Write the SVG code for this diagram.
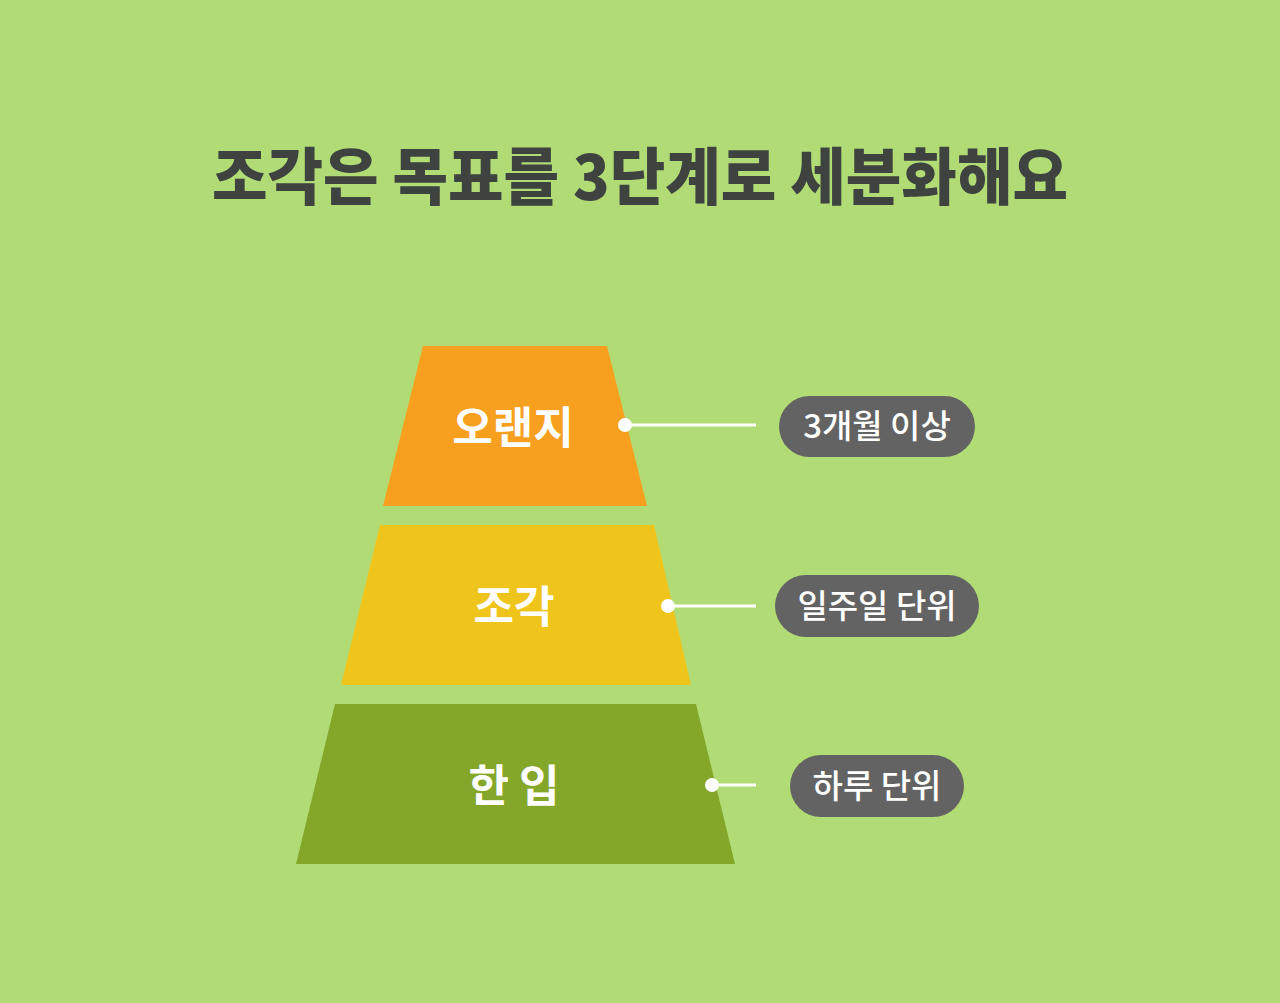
<svg xmlns="http://www.w3.org/2000/svg" width="1280" height="1003" viewBox="0 0 1280 1003">
  <style>
    .title { font-family: "Noto Sans CJK KR", "Noto Sans", sans-serif; font-weight: 900; font-size: 62px; fill: #3f4340; }
    .lbl { font-family: "Noto Sans CJK KR", "Noto Sans", sans-serif; font-weight: 700; font-size: 44px; fill: #ffffff; text-anchor: middle; }
    .pill { fill: #636363; }
    .ptxt { font-family: "Noto Sans CJK KR", "Noto Sans", sans-serif; font-weight: 500; font-size: 33px; fill: #ffffff; text-anchor: middle; }
    .conn line { stroke: #ffffff; stroke-width: 3; }
    .conn circle { fill: #ffffff; }
  </style>
  <rect width="1280" height="1003" fill="#b1dc75"/>
  <text class="title" x="640" y="200" text-anchor="middle" textLength="856" lengthAdjust="spacingAndGlyphs">조각은 목표를 3단계로 세분화해요</text>

  <g id="node-orange">
    <polygon points="423,346 607,346 647,506 383,506" fill="#f79f1f"/>
    <text class="lbl" x="513" y="444">오랜지</text>
  </g>
  <g id="node-piece">
    <polygon points="380,525 654,525 691,685 341,685" fill="#efc51b"/>
    <text class="lbl" x="514" y="623">조각</text>
  </g>
  <g id="node-bite">
    <polygon points="335,704 696,704 735,864 296,864" fill="#84a72a"/>
    <text class="lbl" x="514" y="802">한 입</text>
  </g>

  <g id="label-3months">
    <rect class="pill" x="779" y="396" width="196" height="61" rx="30.5"/>
    <text class="ptxt" x="877" y="438">3개월 이상</text>
  </g>
  <g id="label-week">
    <rect class="pill" x="775" y="575" width="204" height="62" rx="31"/>
    <text class="ptxt" x="877" y="618">일주일 단위</text>
  </g>
  <g id="label-day">
    <rect class="pill" x="790" y="755" width="174" height="62" rx="31"/>
    <text class="ptxt" x="877" y="798">하루 단위</text>
  </g>

  <g id="connectors" class="conn">
    <line x1="625" y1="425" x2="756" y2="425"/>
    <circle cx="625" cy="425" r="7"/>
    <line x1="668" y1="606" x2="756" y2="606"/>
    <circle cx="668" cy="606" r="7"/>
    <line x1="712" y1="785" x2="756" y2="785"/>
    <circle cx="712" cy="785" r="7"/>
  </g>
</svg>
